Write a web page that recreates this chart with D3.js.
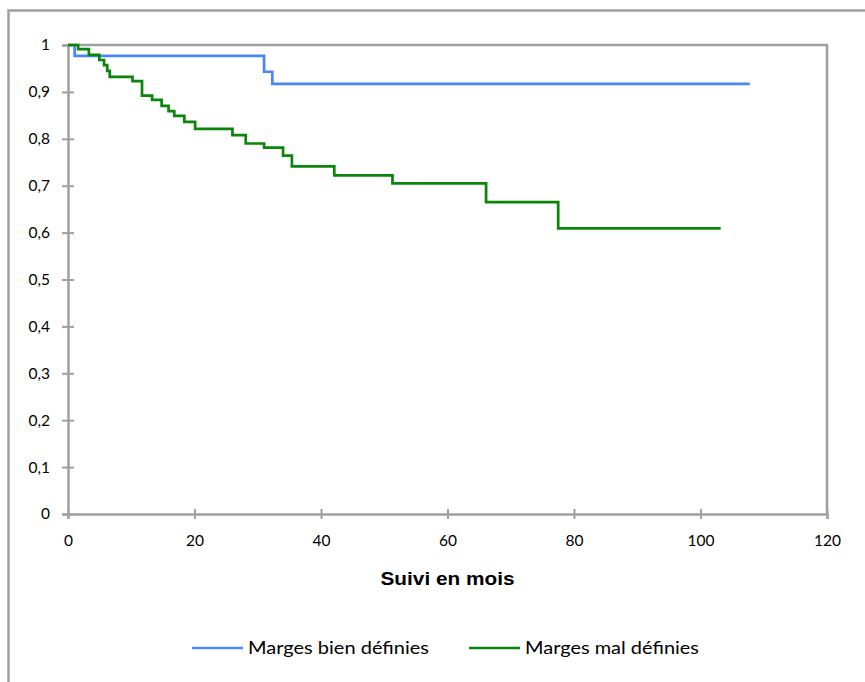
<!DOCTYPE html>
<html><head><meta charset="utf-8">
<script src="https://cdn.jsdelivr.net/npm/d3@7"></script>
<style>body{margin:0;background:#fff}svg{display:block}</style>
</head><body>
<svg id="c" width="865" height="682"></svg>
<script>
// Kaplan-Meier step data: [month, survival]
const bienTimes = [0, 1.05, 31.0, 32.3, 107.8];
const bienValues = [1, 0.977, 0.943, 0.917, 0.917];
const malTimes = [0, 1.6, 3.3, 4.95, 5.7, 6.2, 6.6, 10.2, 11.7, 13.3, 14.8, 15.9, 16.8, 18.4, 20.1, 26.0, 28.1, 31.0, 34.0, 35.4, 42.1, 51.3, 66.1, 77.5, 103.2];
const malValues = [1, 0.991, 0.979, 0.968, 0.957, 0.945, 0.932, 0.923, 0.892, 0.883, 0.870, 0.859, 0.849, 0.836, 0.821, 0.808, 0.790, 0.781, 0.764, 0.741, 0.722, 0.705, 0.665, 0.609, 0.609];
const xTicks = [0, 20, 40, 60, 80, 100, 120];
const yTicks = [0, 0.1, 0.2, 0.3, 0.4, 0.5, 0.6, 0.7, 0.8, 0.9, 1];
const seriesNames = ["Marges bien définies", "Marges mal définies"];
const seriesColors = ["#4a86f5", "#0a850a"];
const xTitle = "Suivi en mois";

const svg = d3.select("#c");
const gray = "#a0a0a0";
const L = 68, R = 827, T = 45, B = 514;
const x = d3.scaleLinear().domain([0, 120]).range([L, R]);
const y = d3.scaleLinear().domain([0, 1]).range([B, T]);
const fmt = d3.formatLocale({decimal: ",", thousands: " ", grouping: [3], currency: ["", "€"]}).format("~g");
const font = "Lato, 'Open Sans', sans-serif";

// outer frame
svg.append("rect").attr("x", 8.5).attr("y", 10.5).attr("width", 900).attr("height", 700)
  .attr("fill", "none").attr("stroke", gray).attr("stroke-width", 2.5);

// plot box top/right
svg.append("path").attr("d", `M${L},${T}H${R}V${B}`).attr("fill", "none")
  .attr("stroke", gray).attr("stroke-width", 2.5);

// Y axis
const ya = svg.append("g").attr("transform", `translate(${L},0)`)
  .call(d3.axisLeft(y).tickValues(yTicks).tickFormat(d => fmt(d)).tickSize(6).tickPadding(12));
ya.select(".domain").attr("stroke", gray).attr("stroke-width", 2.5);
ya.selectAll(".tick line").attr("stroke", gray).attr("stroke-width", 2).attr("x2", 6).attr("x1", -6);
ya.selectAll(".tick text").attr("font-family", font).attr("font-size", 15.5).attr("fill", "#000").attr("x", -18);

// X axis
const xa = svg.append("g").attr("transform", `translate(0,${B})`)
  .call(d3.axisBottom(x).tickValues(xTicks).tickFormat(d => d).tickSize(5).tickPadding(16));
xa.select(".domain").attr("stroke", gray).attr("stroke-width", 2.5);
xa.selectAll(".tick line").attr("stroke", gray).attr("stroke-width", 2).attr("y1", -5).attr("y2", 5);
xa.selectAll(".tick text").attr("font-family", font).attr("font-size", 15.5).attr("fill", "#000");

// axis title
svg.append("text").attr("x", (L + R) / 2).attr("y", 585).attr("text-anchor", "middle")
  .attr("font-family", "'Liberation Sans', Arial, sans-serif").attr("font-weight", "bold")
  .attr("font-size", 19).attr("textLength", 134).attr("lengthAdjust", "spacingAndGlyphs")
  .attr("fill", "#000").text(xTitle);

// curves
const line = d3.line().x(d => x(d[0])).y(d => y(d[1])).curve(d3.curveStepAfter);
const data = [
  d3.zip(bienTimes, bienValues),
  d3.zip(malTimes, malValues)
];
data.forEach((pts, i) => {
  svg.append("path").datum(pts).attr("d", line).attr("fill", "none")
    .attr("stroke", seriesColors[i]).attr("stroke-width", 2.7);
});

// legend
const legX = [192, 469];
const legW = [181, 174];
seriesNames.forEach((n, i) => {
  svg.append("line").attr("x1", legX[i]).attr("x2", legX[i] + 51).attr("y1", 648).attr("y2", 648)
    .attr("stroke", seriesColors[i]).attr("stroke-width", 2.7);
  svg.append("text").attr("x", legX[i] + 56).attr("y", 654)
    .attr("font-family", font).attr("font-size", 17.5)
    .attr("textLength", legW[i]).attr("lengthAdjust", "spacingAndGlyphs")
    .attr("fill", "#000").text(n);
});
</script>
</body></html>
